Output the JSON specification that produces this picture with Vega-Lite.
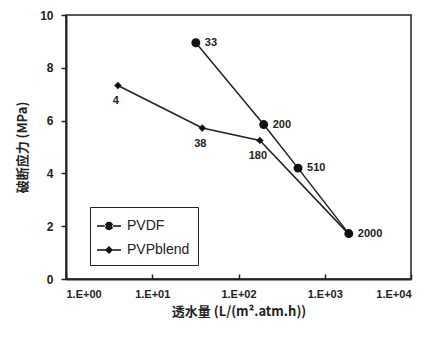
{
  "$schema": "https://vega.github.io/schema/vega-lite/v6.json",
  "width": 345,
  "height": 264,
  "autosize": "none",
  "padding": {"left": 66, "top": 15, "right": 28, "bottom": 59},
  "background": "white",
  "config": {
    "font": "Liberation Sans",
    "view": {"stroke": "#222", "strokeWidth": 1.5},
    "axis": {"grid": false, "domainColor": "#222", "domainWidth": 2, "tickColor": "#222", "tickWidth": 1.5, "labelColor": "#222", "titleColor": "#222", "labelFont": "Liberation Sans", "labelFontWeight": "bold", "labelFontSize": 11, "titleFontSize": 13, "titleFontWeight": "bold", "titleFont": "Noto Sans CJK SC"}
  },
  "data": {
    "values": [
      {"flux": 32, "stress": 8.95, "series": "PVDF", "label": "33", "pos": "right"},
      {"flux": 196, "stress": 5.85, "series": "PVDF", "label": "200", "pos": "right"},
      {"flux": 490, "stress": 4.2, "series": "PVDF", "label": "510", "pos": "right"},
      {"flux": 1900, "stress": 1.72, "series": "PVDF", "label": "2000", "pos": "right"},
      {"flux": 4, "stress": 7.33, "series": "PVPblend", "label": "4", "pos": "below"},
      {"flux": 38, "stress": 5.72, "series": "PVPblend", "label": "38", "pos": "below"},
      {"flux": 177, "stress": 5.25, "series": "PVPblend", "label": "180", "pos": "below"},
      {"flux": 1900, "stress": 1.7, "series": "PVPblend", "label": "", "pos": "below"}
    ]
  },
  "encoding": {
    "x": {
      "field": "flux", "type": "quantitative",
      "scale": {"type": "log", "domain": [1, 10000], "nice": false},
      "axis": {"values": [1, 10, 100, 1000, 10000], "labelExpr": "'1.E+0' + format(log(datum.value)/LN10, 'd')", "title": "透水量 (L/(m².atm.h))", "tickSize": -5, "labelPadding": 14, "titlePadding": 6}
    },
    "y": {
      "field": "stress", "type": "quantitative",
      "scale": {"domain": [0, 10], "nice": false},
      "axis": {"values": [0, 2, 4, 6, 8, 10], "title": "破断应力 (MPa)", "tickSize": 5, "labelPadding": 8, "titlePadding": 10, "labelFontSize": 12}
    }
  },
  "resolve": {"scale": {"shape": "independent"}},
  "layer": [
    {
      "mark": {"type": "line", "color": "#222", "strokeWidth": 1.5},
      "encoding": {"detail": {"field": "series"}}
    },
    {
      "mark": {"type": "point", "filled": true, "color": "#111", "opacity": 1},
      "encoding": {
        "shape": {
          "field": "series", "type": "nominal",
          "scale": {"domain": ["PVDF", "PVPblend"], "range": ["circle", "diamond"]},
          "legend": null
        },
        "size": {"condition": {"test": "datum.series === 'PVDF'", "value": 80}, "value": 55}
      }
    },
    {
      "transform": [{"filter": "false"}],
      "mark": {"type": "point", "filled": true, "color": "#111", "opacity": 1},
      "encoding": {
        "shape": {
          "field": "series", "type": "nominal",
          "scale": {"domain": ["PVDF", "PVPblend"], "range": ["M-1.2,-0.08H-0.3V0.08H-1.2Z M0.3,-0.08H1.2V0.08H0.3Z M-0.42,0A0.42,0.42 0 1,0 0.42,0A0.42,0.42 0 1,0 -0.42,0Z", "M-1.2,-0.08H-0.3V0.08H-1.2Z M0.3,-0.08H1.2V0.08H0.3Z M0,-0.4L0.4,0L0,0.4L-0.4,0Z"]},
          "legend": {
            "title": null, "orient": "none", "legendX": 24, "legendY": 192,
            "strokeColor": "#222", "padding": 8, "labelFontSize": 14, "labelFont": "Liberation Sans", "labelColor": "#222",
            "symbolFillColor": "#111", "symbolOpacity": 1, "rowPadding": 5, "symbolSize": 400, "labelOffset": 7
          }
        }
      }
    },
    {
      "transform": [{"filter": "datum.pos === 'right'"}],
      "mark": {"type": "text", "align": "left", "baseline": "middle", "dx": 9, "fontWeight": "bold", "fontSize": 11, "color": "#222"},
      "encoding": {"text": {"field": "label"}}
    },
    {
      "transform": [{"filter": "datum.pos === 'below'"}],
      "mark": {"type": "text", "align": "center", "baseline": "top", "dy": 10, "dx": -2, "fontWeight": "bold", "fontSize": 11, "color": "#222"},
      "encoding": {"text": {"field": "label"}}
    }
  ]
}
